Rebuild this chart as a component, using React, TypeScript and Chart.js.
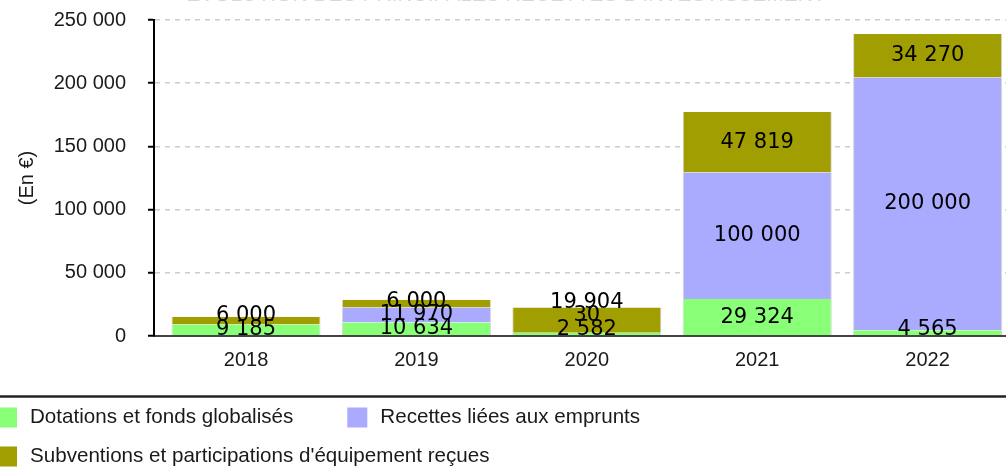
import React, { useEffect, useRef } from "react";
import { Chart, registerables } from "chart.js";

Chart.register(...registerables);

// ---- Data ----
const categories = ["2018", "2019", "2020", "2021", "2022"];
const dotations = [9185, 10634, 2582, 29324, 4565];
const emprunts = [0, 11970, 30, 100000, 200000];
const subventions = [6000, 6000, 19904, 47819, 34270];
const seriesLabels = [
  "Dotations et fonds globalisés",
  "Recettes liées aux emprunts",
  "Subventions et participations d'équipement reçues",
];
const yTicks = [0, 50000, 100000, 150000, 200000, 250000];
const chartTitle = "EVOLUTION DES PRINCIPALES RECETTES D'INVESTISSEMENT";
const yAxisTitle = "(En €)";

// ---- Styles ----
const COLORS = ["#88ff77", "#aaaaff", "#a09e00"];
const SANS = '"Liberation Sans", Arial, sans-serif';
const DEJAVU = '"DejaVu Sans", sans-serif';
const W = 1006;
const H = 472;

const fmt = (v: number) =>
  String(Math.round(v)).replace(/\B(?=(\d{3})+(?!\d))/g, " ");

const titlePlugin = {
  id: "cutTitle",
  beforeDraw(chart: any) {
    const ctx = chart.ctx;
    ctx.save();
    ctx.font = `21px ${SANS}`;
    ctx.fillStyle = "#d8d8d8";
    ctx.textAlign = "center";
    ctx.textBaseline = "alphabetic";
    ctx.fillText(chartTitle, 506, 1);
    ctx.restore();
  },
};

// value labels centred in each segment, pushed apart so they do not overlap
const valueLabelPlugin = {
  id: "valueLabels",
  afterDatasetsDraw(chart: any) {
    const ctx = chart.ctx;
    const bottom = chart.chartArea.bottom;
    const GAP = 13.5;
    ctx.save();
    ctx.font = `21px ${DEJAVU}`;
    ctx.fillStyle = "#000";
    ctx.textAlign = "center";
    ctx.textBaseline = "middle";
    const n = categories.length;
    for (let j = 0; j < n; j++) {
      let limit = bottom - 6.5;
      chart.data.datasets.forEach((ds: any, di: number) => {
        const v = ds.data[j].y;
        if (!v) return;
        const el = chart.getDatasetMeta(di).data[j];
        const { x, y, base } = el.getProps(["x", "y", "base"], true);
        const ly = Math.min((y + base) / 2, limit);
        ctx.fillText(fmt(v), x, ly);
        limit = ly - GAP;
      });
    }
    ctx.restore();
  },
};

const legendPlugin = {
  id: "customLegend",
  afterDraw(chart: any) {
    const ctx = chart.ctx;
    ctx.save();
    ctx.strokeStyle = "#222";
    ctx.lineWidth = 2.5;
    ctx.beginPath();
    ctx.moveTo(0, 396.5);
    ctx.lineTo(chart.width, 396.5);
    ctx.stroke();

    ctx.font = `20.6px ${SANS}`;
    ctx.textBaseline = "middle";
    ctx.textAlign = "left";
    const rows = [
      { y: 417.5, items: [0, 1] },
      { y: 456.5, items: [2] },
    ];
    rows.forEach((row) => {
      let x = -3;
      row.items.forEach((idx) => {
        const ds = chart.data.datasets[idx];
        ctx.fillStyle = ds.backgroundColor;
        ctx.fillRect(x, row.y - 10, 20, 20);
        ctx.fillStyle = "#1a1a1a";
        ctx.fillText(ds.label, x + 33, row.y);
        x += 33 + ctx.measureText(ds.label).width + 54;
      });
    });
    ctx.restore();
  },
};

export default function App() {
  const canvasRef = useRef<HTMLCanvasElement | null>(null);

  useEffect(() => {
    const canvas = canvasRef.current;
    if (!canvas) return;
    const series = [dotations, emprunts, subventions];
    const chart = new Chart(canvas, {
      type: "bar",
      data: {
        datasets: series.map((arr, i) => ({
          label: seriesLabels[i],
          data: arr.map((v, k) => ({ x: k, y: v })),
          backgroundColor: COLORS[i],
          borderColor: "#d6d6d6",
          borderWidth: { left: 1, right: 1, top: 0, bottom: 0 },
          barPercentage: 0.875,
          categoryPercentage: 1,
        })),
      },
      options: {
        responsive: false,
        animation: false,
        devicePixelRatio: 1,
        layout: { padding: { top: 20, left: 0, right: 0, bottom: 0 } },
        plugins: {
          legend: { display: false },
          title: { display: false },
          tooltip: { enabled: false },
        },
        scales: {
          x: {
            type: "linear",
            offset: false,
            min: -0.54,
            max: 4.46,
            stacked: true,
            afterBuildTicks: (s: any) => {
              s.ticks = categories.map((_, i) => ({ value: i }));
            },
            afterFit: (s: any) => {
              s.height = 136;
              s.paddingLeft = 0;
              s.paddingRight = 0;
            },
            grid: { display: false, drawTicks: false, offset: false },
            border: { display: true, color: "#444", width: 2, z: 1 },
            ticks: {
              autoSkip: false,
              maxRotation: 0,
              padding: 12,
              color: "#1a1a1a",
              font: { family: SANS, size: 20 },
              callback: (v: any) => categories[v] ?? "",
            },
          },
          y: {
            stacked: true,
            min: 0,
            max: 250000,
            afterBuildTicks: (s: any) => {
              s.ticks = yTicks.map((v) => ({ value: v }));
            },
            afterFit: (s: any) => {
              s.width = 154;
              s.paddingTop = 0;
              s.paddingBottom = 0;
            },
            grid: {
              color: "#cccccc",
              lineWidth: 1.5,
              tickLength: 6,
              tickColor: "#000",
              tickWidth: 2,
            },
            border: { display: true, color: "#000", width: 2, dash: [5, 5], z: 1 },
            ticks: {
              padding: 22,
              color: "#1a1a1a",
              font: { family: SANS, size: 20 },
              callback: (v: any) => fmt(Number(v)),
            },
            title: {
              display: true,
              text: yAxisTitle,
              color: "#1a1a1a",
              font: { family: SANS, size: 20 },
              padding: { top: 15, bottom: 0 },
            },
          },
        },
      } as any,
      plugins: [titlePlugin, valueLabelPlugin, legendPlugin],
    });
    return () => chart.destroy();
  }, []);

  return (
    <div
      style={{
        position: "fixed",
        left: 0,
        top: 0,
        width: W,
        height: H,
        overflow: "hidden",
        background: "#fff",
      }}
    >
      <canvas ref={canvasRef} width={W} height={H} style={{ display: "block" }} />
    </div>
  );
}
